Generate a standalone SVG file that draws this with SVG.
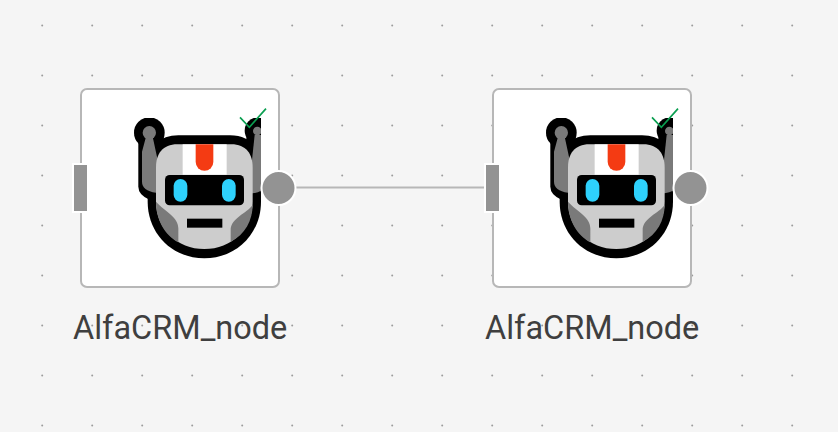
<svg xmlns="http://www.w3.org/2000/svg" width="838" height="432" viewBox="0 0 838 432">
<style>
.card{fill:#fff;stroke:#b7b7b7;stroke-width:2}
.inport{fill:#939393;stroke:#fff;stroke-width:2}
.outport{fill:#939393;stroke:#fff;stroke-width:2}
.label{font-family:Roboto,"Liberation Sans",sans-serif;font-size:32.500px;fill:#3f3f3f}
.edge{stroke:#b7b7b7;stroke-width:2;fill:none}
.k{fill:#000}.g{fill:#7a7a7a}.l{fill:#cdcdcd}.e{fill:#2ed1fc}
.tick{fill:none;stroke:#0a9e50;stroke-width:5}
</style>
<defs>
<pattern id="dots" width="50" height="50" patternUnits="userSpaceOnUse" x="17" y="0">
<circle cx="25.200" cy="25.400" r="1" fill="#9c9c9c"/>
</pattern>
<clipPath id="cut"><path d="M180 114H573V560H180Z"/></clipPath>
<g id="robot" transform="translate(70 80) scale(.33333)">
<g clip-path="url(#cut)">
<circle class="k" cx="238" cy="158" r="46"/>
<path class="k" d="M205 170V320Q205 345 240 360L300 300 280 170Z"/>
<circle class="k" cx="564" cy="152" r="40"/>
<path class="k" d="M530 170L505 300 590 360V170Z"/>
<path class="k" d="M233 255C233 200 270 166 325 166H480C535 166 573 200 573 255V365C573 460 500 535 403 535S233 460 233 365Z"/>
<path class="g" d="M228 170L216 215V305Q216 332 258 338H300V240H263L248 170Z"/>
<circle class="g" cx="238" cy="158" r="20"/>
<path class="g" d="M554 165L546 240V340H548Q590 335 590 300V165Z"/>
<circle class="g" cx="562" cy="153" r="13"/>
</g>
<path class="l" d="M258 262C258 222 278 193 322 193H484C528 193 548 222 548 262V365C548 445 485 507 403 507S258 445 258 365Z"/>
<path class="g" d="M258 365C285 395 325 410 325 445V487C285 465 258 420 258 365Z"/>
<path class="g" d="M548 375C530 400 482 415 482 450V485C525 465 548 420 548 375Z"/>
<rect x="338" y="193" width="132" height="91" fill="#fff"/>
<path d="M377 193H430V246A26.500 26.500 0 0 1 377 246Z" fill="#f43b13"/>
<rect class="k" x="285" y="285" width="237" height="91" rx="14"/>
<rect class="e" x="311" y="297" width="41" height="68" rx="20.500"/>
<rect class="e" x="456" y="297" width="41" height="68" rx="20.500"/>
<rect class="k" x="351" y="416" width="106" height="27"/>
<polyline class="tick" points="510,112 538,142 588,86"/>
</g>
</defs>
<rect width="838" height="432" fill="#f5f5f5"/>
<rect width="838" height="432" fill="url(#dots)"/>
<g id="connectors">
<line class="edge" x1="295" y1="187.500" x2="486" y2="187.500"/>
</g>
<g id="node-1">
<rect class="card" x="81" y="89" width="198" height="198" rx="6"/>
<use href="#robot"/>
<rect class="inport" x="73" y="164" width="15" height="48"/>
<circle class="outport" cx="278.500" cy="188" r="17"/>
<text class="label" x="73" y="339">AlfaCRM_node</text>
</g>
<g id="node-2">
<rect class="card" x="493" y="89" width="198" height="198" rx="6"/>
<use href="#robot" x="412"/>
<rect class="inport" x="485" y="164" width="15" height="48"/>
<circle class="outport" cx="690.500" cy="188" r="17"/>
<text class="label" x="485" y="339">AlfaCRM_node</text>
</g>
</svg>
